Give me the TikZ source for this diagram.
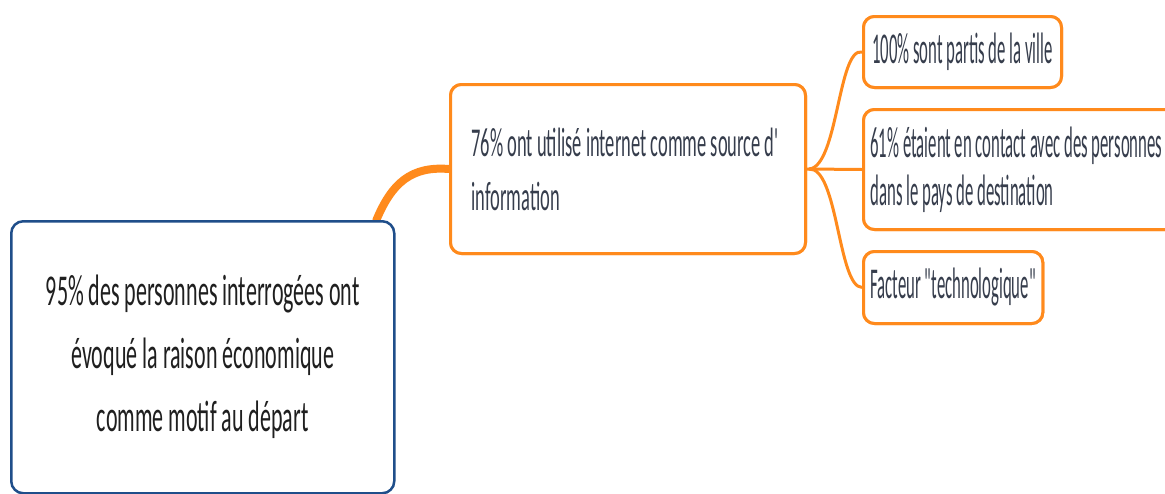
\documentclass[tikz,border=0pt]{standalone}
\usepackage{fontspec}
\newfontfamily\df[FakeStretch=0.5,Ligatures=TeXOff]{Carlito}
\newfontfamily\of[FakeStretch=0.45,Ligatures=TeXOff]{Carlito}
\newfontfamily\cf[FakeStretch=0.38,Ligatures=TeXOff]{Carlito}
\definecolor{og}{HTML}{FF8A1C}
\definecolor{bl}{HTML}{1F4E8A}
\definecolor{tx}{HTML}{363D4C}
\begin{document}
\begin{tikzpicture}[x=1pt,y=-1pt,
  rootbox/.style={draw=bl, line width=2.5pt, rounded corners=12pt, fill=white,
    inner xsep=10pt, inner ysep=0pt, align=center, text=black!88,
    font=\df\fontsize{44}{63}\selectfont},
  obox/.style={draw=og, line width=3pt, rounded corners=11pt, fill=white,
    inner ysep=0pt, align=flush left, text=tx, anchor=north west,
    font=\of\fontsize{41}{54}\selectfont},
  cbox/.style={obox, inner xsep=7pt, font=\cf\fontsize{44}{48}\selectfont},
  thick conn/.style={draw=og, line width=8pt},
  thin conn/.style={draw=og, line width=3pt}]
\clip (0,0) rectangle (1165,493);
\fill[white] (0,0) rectangle (1165,493);
\coordinate (rs) at (376,221);
\node[obox, inner xsep=21pt, text width=313pt, minimum height=169pt] (main) at (449,83)
  {76\% ont utilisé internet comme source d'\\information};
\node[cbox, minimum width=198pt, minimum height=71pt] (c1) at (862,15)
  {100\% sont partis de la ville};
\node[cbox, text width=330pt, minimum height=120pt] (c2) at (862,108)
  {61\% étaient en contact avec des personnes\\dans le pays de destination};
\node[cbox, minimum width=176pt, minimum height=72pt] (c3) at (862,250)
  {Facteur "technologique"};
% connectors
\path[thick conn] (rs) .. controls (392,182) and (412,166) .. (main.west);
\path[thin conn] (main.east) -- (c2.west);
\path[thin conn] ([xshift=2pt]main.east) .. controls (838,167) and (838,47) .. (c1.west);
\path[thin conn] ([xshift=2pt]main.east) .. controls (838,167) and (838,287) .. (c3.west);
\node[rootbox, minimum width=383pt, minimum height=272pt, anchor=north west] (root) at (10,220)
  {95\% des personnes interrogées ont\\évoqué la raison économique\\comme motif au départ};
% boxes drawn again over the connector ends
\node[obox, inner xsep=21pt, text width=313pt, minimum height=169pt] at (449,83)
  {76\% ont utilisé internet comme source d'\\information};
\node[cbox, minimum width=198pt, minimum height=71pt] at (862,15)
  {100\% sont partis de la ville};
\node[cbox, text width=330pt, minimum height=120pt] at (862,108)
  {61\% étaient en contact avec des personnes\\dans le pays de destination};
\node[cbox, minimum width=176pt, minimum height=72pt] at (862,250)
  {Facteur "technologique"};
\end{tikzpicture}
\end{document}
